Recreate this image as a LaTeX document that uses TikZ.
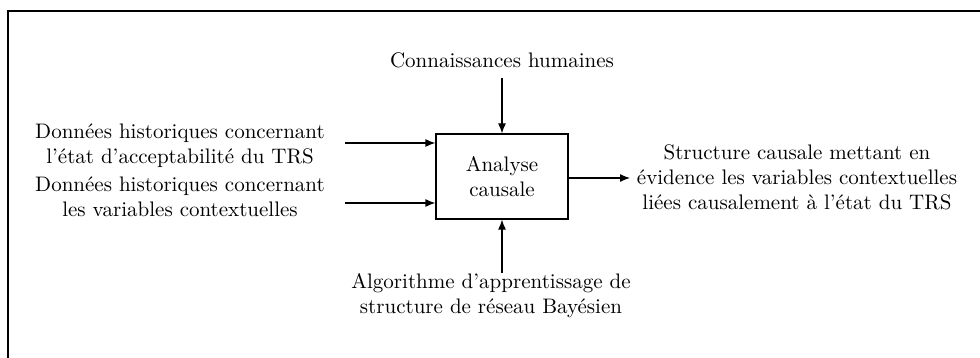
\documentclass[tikz,border=0pt]{standalone}
\usetikzlibrary{arrows.meta}
\begin{document}
\begin{tikzpicture}[x=0.5pt,y=-0.5pt,
  txt/.style={align=center,font=\fontsize{10.5}{12.6}\selectfont,inner sep=1pt},
  flow/.style={line width=0.6pt,-{Latex[length=5pt,width=4pt]}},
  frame/.style={line width=1pt}]
\useasboundingbox (0,0) rectangle (980,358);
\draw[frame] (8,358) -- (8,11) -- (980,11);
\node[draw,line width=0.6pt,minimum width=66pt,minimum height=42.5pt,inner sep=0pt,txt] (box) at (502,176.5) {Analyse\\causale};
\node[txt] (ch) at (502,60) {Connaissances humaines};
\node[txt] (algo) at (491,296) {Algorithme d'apprentissage de\\structure de réseau Bayésien};
\node[txt] (d1) at (180,145.5) {Données historiques concernant\\l'état d'acceptabilité du TRS};
\node[txt] (d2) at (180,196.5) {Données historiques concernant\\les variables contextuelles};
\node[txt] (out) at (797,177.5) {Structure causale mettant en\\évidence les variables contextuelles\\liées causalement à l'état du TRS};
\coordinate (tA) at (502,78);
\coordinate (bA) at (502,273);
\coordinate (a1) at (345,143);
\coordinate (a2) at (345,203);
\coordinate (oA) at (630,178);
\draw[flow] (tA) -- (box.north);
\draw[flow] (bA) -- (box.south);
\draw[flow] (a1) -- (a1 -| box.west);
\draw[flow] (a2) -- (a2 -| box.west);
\draw[flow] (oA -| box.east) -- (oA);
\end{tikzpicture}
\end{document}
